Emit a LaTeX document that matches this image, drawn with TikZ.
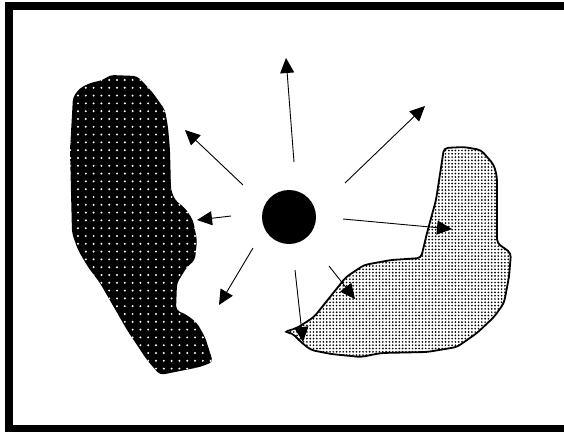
\documentclass[tikz,border=0pt]{standalone}
\usepackage{tikz}
\usetikzlibrary{arrows.meta, patterns.meta}

\begin{document}
\begin{tikzpicture}[
        x=1pt, y=-1pt,
        >={Triangle[length=15pt, width=14pt]},
        frame/.style={draw, line width=8pt},
        darkblob/.style={fill=black, rounded corners=4pt,
            postaction={pattern={Dots[distance=7.8pt, radius=1.1pt]}, pattern color=white}},
        lightblob/.style={draw, line width=1.8pt, fill=white, rounded corners=4pt,
            postaction={pattern={Dots[distance=3.3pt, radius=0.95pt]}, pattern color=black}},
        source/.style={circle, fill=black, minimum size=54pt, inner sep=0pt},
        ray/.style={->, line width=0.9pt},
    ]
    \useasboundingbox (0,0) rectangle (564,431);

    %% ===== Frame =====
    \draw[frame] (8.8,5.5) rectangle (600,429);

    %% ===== Dark region (left) =====
    \path[darkblob] (110,75) -- (137,76) -- (143,82) -- (153,93) -- (165,110)
        -- (168,127) -- (170,150) -- (171,190) -- (175,200) -- (185,208)
        -- (193,220) -- (197,240) -- (195,260) -- (187,267) -- (177,283)
        -- (176,310) -- (187,315) -- (197,323) -- (205,337) -- (213,362)
        -- (200,367) -- (160,375) -- (147,360) -- (127,330) -- (100,283)
        -- (88,267) -- (78,250) -- (72,233) -- (70,150) -- (73,97)
        -- (80,88) -- (90,83) -- (103,80) -- cycle;

    %% ===== Light region (right) =====
    \path[lightblob] (444,148) -- (464,147) -- (481,150) -- (494,165) -- (497,177)
        -- (497,243) -- (511,253) -- (509,277) -- (504,303) -- (494,317)
        -- (477,333) -- (457,347) -- (427,352) -- (381,353) -- (361,357)
        -- (331,354) -- (311,350) -- (302,343) -- (292,333) -- (284,332)
        -- (297,328) -- (314,317) -- (346,277) -- (364,265) -- (391,260)
        -- (421,258) -- (427,233) -- (436,200) -- cycle;

    %% ===== Source =====
    \node[source] (src) at (289,217) {};

    %% ===== Rays =====
    \foreach \name/\from/\to in {up/{294,162}/{286,58}, upright/{345,183}/{425,106},
            right/{343,219}/{452,229}, downright/{329,266}/{355,299},
            down/{295,270}/{303,342}, downleft/{253,248}/{219,305},
            left/{231,216}/{197,220}, upleft/{243,185}/{185,130}} {
        \coordinate (\name-s) at (\from);
        \coordinate (\name-t) at (\to);
        \draw[ray] (\name-s) -- (\name-t);
    }

\end{tikzpicture}
\end{document}
